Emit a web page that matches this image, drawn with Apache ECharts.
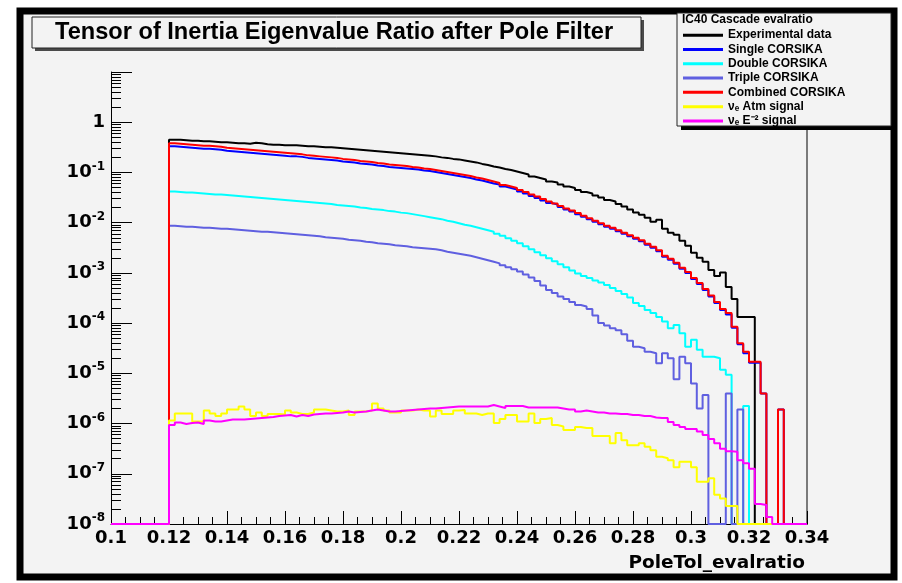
<!DOCTYPE html>
<html><head><meta charset="utf-8">
<script src="https://cdn.jsdelivr.net/npm/echarts@6/dist/echarts.min.js"></script>
<style>html,body{margin:0;padding:0;background:#fff}#chart{width:902px;height:583px}</style>
</head><body><div id="chart"></div>
<script>
// Histogram binning: 120 bins of width 0.002 from 0.1 to 0.34
const binLow = 0.1, binWidth = 0.002;
// Tick labels
const xTickLabels = ['0.1','0.12','0.14','0.16','0.18','0.2','0.22','0.24','0.26','0.28','0.3','0.32','0.34'];
const yTickExponents = [-8,-7,-6,-5,-4,-3,-2,-1,0];
// Bin contents as log10(value); null = empty bin
const log10Experimental = [
null,null,null,null,null,null,null,null,null,null,
-0.35,-0.35,-0.36,-0.37,-0.37,-0.38,-0.38,-0.39,-0.40,-0.40,
-0.41,-0.42,-0.42,-0.43,-0.41,-0.42,-0.44,-0.45,-0.45,-0.46,
-0.46,-0.46,-0.47,-0.48,-0.48,-0.49,-0.50,-0.50,-0.51,-0.52,
-0.53,-0.54,-0.55,-0.56,-0.57,-0.58,-0.59,-0.60,-0.61,-0.62,
-0.63,-0.64,-0.65,-0.66,-0.67,-0.68,-0.70,-0.71,-0.73,-0.74,
-0.76,-0.78,-0.80,-0.83,-0.85,-0.88,-0.90,-0.93,-0.95,-0.98,
-1.01,-1.04,-1.08,-1.11,-1.14,-1.18,-1.20,-1.24,-1.28,-1.31,
-1.35,-1.39,-1.42,-1.46,-1.50,-1.55,-1.58,-1.63,-1.68,-1.74,
-1.80,-1.84,-1.90,-1.98,-1.94,-2.12,-2.20,-2.24,-2.36,-2.46,
-2.60,-2.70,-2.78,-2.94,-3.06,-2.99,-3.28,-3.52,-3.88,-3.88,
-3.88,null,null,null,null,null,null,null,null,null];
const log10Single = [
null,null,null,null,null,null,null,null,null,null,
-0.48,-0.49,-0.50,-0.51,-0.52,-0.53,-0.53,-0.54,-0.55,-0.57,
-0.58,-0.59,-0.60,-0.61,-0.62,-0.63,-0.64,-0.65,-0.66,-0.67,
-0.68,-0.68,-0.69,-0.71,-0.72,-0.73,-0.74,-0.75,-0.76,-0.78,
-0.79,-0.80,-0.82,-0.83,-0.84,-0.86,-0.87,-0.89,-0.90,-0.91,
-0.92,-0.93,-0.94,-0.96,-0.97,-0.99,-1.01,-1.03,-1.05,-1.07,
-1.09,-1.11,-1.14,-1.16,-1.19,-1.22,-1.24,-1.28,-1.31,-1.34,
-1.38,-1.42,-1.47,-1.51,-1.56,-1.61,-1.64,-1.69,-1.74,-1.78,
-1.83,-1.88,-1.93,-1.98,-2.03,-2.08,-2.12,-2.17,-2.22,-2.27,
-2.32,-2.37,-2.44,-2.50,-2.57,-2.68,-2.74,-2.82,-2.92,-3.00,
-3.12,-3.22,-3.34,-3.47,-3.60,-3.74,-3.83,-4.09,-4.42,-4.60,
-4.79,-4.79,-5.40,null,null,-5.72,null,null,null,null];
const log10Double = [
null,null,null,null,null,null,null,null,null,null,
-1.38,-1.39,-1.40,-1.40,-1.41,-1.42,-1.43,-1.44,-1.44,-1.45,
-1.46,-1.47,-1.48,-1.49,-1.50,-1.51,-1.52,-1.53,-1.54,-1.55,
-1.56,-1.57,-1.58,-1.59,-1.60,-1.61,-1.62,-1.63,-1.65,-1.66,
-1.67,-1.68,-1.70,-1.71,-1.73,-1.74,-1.75,-1.77,-1.78,-1.80,
-1.81,-1.83,-1.85,-1.87,-1.89,-1.91,-1.93,-1.96,-1.98,-2.01,
-2.04,-2.06,-2.09,-2.12,-2.15,-2.18,-2.22,-2.26,-2.31,-2.36,
-2.41,-2.47,-2.53,-2.59,-2.65,-2.71,-2.77,-2.83,-2.89,-2.95,
-3.01,-3.06,-3.10,-3.15,-3.19,-3.24,-3.30,-3.36,-3.42,-3.49,
-3.60,-3.66,-3.74,-3.80,-3.88,-3.97,-4.10,-4.04,-4.20,-4.47,
-4.33,-4.53,-4.67,-4.67,-4.70,-4.93,-5.03,null,null,-5.65,
null,null,null,null,null,null,null,null,null,null];
const log10Triple = [
null,null,null,null,null,null,null,null,null,null,
-2.06,-2.07,-2.08,-2.08,-2.09,-2.10,-2.10,-2.11,-2.12,-2.12,
-2.13,-2.14,-2.15,-2.16,-2.17,-2.18,-2.18,-2.19,-2.20,-2.21,
-2.22,-2.23,-2.24,-2.25,-2.26,-2.27,-2.29,-2.30,-2.31,-2.32,
-2.34,-2.35,-2.36,-2.38,-2.39,-2.41,-2.42,-2.43,-2.45,-2.46,
-2.47,-2.49,-2.50,-2.51,-2.52,-2.53,-2.55,-2.58,-2.60,-2.62,
-2.64,-2.66,-2.69,-2.72,-2.75,-2.78,-2.81,-2.85,-2.89,-2.93,
-2.97,-3.03,-3.09,-3.16,-3.25,-3.34,-3.40,-3.47,-3.52,-3.58,
-3.64,-3.67,-3.72,-3.85,-4.00,-4.05,-4.10,-4.14,-4.22,-4.35,
-4.47,-4.50,-4.57,-4.60,-4.80,-4.60,-4.70,-5.12,-4.67,-4.80,
-5.20,-5.70,-5.43,null,null,null,-5.40,null,-5.72,null,
null,null,null,null,null,null,null,null,null,null];
const log10Combined = [
null,null,null,null,null,null,null,null,null,null,
-0.42,-0.43,-0.44,-0.45,-0.46,-0.47,-0.47,-0.48,-0.49,-0.51,
-0.52,-0.53,-0.54,-0.55,-0.56,-0.57,-0.58,-0.59,-0.60,-0.61,
-0.62,-0.63,-0.64,-0.66,-0.67,-0.68,-0.69,-0.70,-0.71,-0.73,
-0.74,-0.75,-0.77,-0.78,-0.79,-0.81,-0.82,-0.84,-0.85,-0.86,
-0.87,-0.89,-0.90,-0.92,-0.93,-0.95,-0.97,-0.99,-1.01,-1.03,
-1.05,-1.07,-1.10,-1.12,-1.15,-1.18,-1.21,-1.25,-1.28,-1.31,
-1.35,-1.39,-1.44,-1.48,-1.53,-1.58,-1.62,-1.67,-1.72,-1.76,
-1.81,-1.86,-1.91,-1.96,-2.01,-2.06,-2.10,-2.15,-2.20,-2.25,
-2.30,-2.35,-2.42,-2.48,-2.55,-2.66,-2.72,-2.80,-2.90,-2.98,
-3.10,-3.20,-3.32,-3.45,-3.58,-3.72,-3.80,-4.07,-4.40,-4.57,
-4.77,-4.77,-5.40,null,null,-5.72,null,null,null,null];
const log10NueAtm = [
null,null,null,null,null,null,null,null,null,null,
-5.94,-5.80,-5.80,-5.80,-5.96,-5.96,-5.74,-5.80,-5.85,-5.80,
-5.72,-5.72,-5.66,-5.72,-5.85,-5.78,-5.85,-5.81,-5.81,-5.82,
-5.74,-5.78,-5.81,-5.81,-5.78,-5.72,-5.72,-5.74,-5.76,-5.76,
-5.74,-5.83,-5.76,-5.76,-5.74,-5.60,-5.70,-5.74,-5.78,-5.78,
-5.74,-5.74,-5.72,-5.74,-5.74,-5.86,-5.74,-5.81,-5.81,-5.74,
-5.73,-5.80,-5.80,-5.83,-5.80,-5.80,-5.99,-5.91,-5.83,-5.83,
-5.96,-5.96,-5.80,-5.99,-5.91,-5.89,-6.03,-6.06,-6.13,-6.13,
-6.07,-6.09,-6.09,-6.25,-6.25,-6.25,-6.39,-6.19,-6.33,-6.43,
-6.43,-6.39,-6.46,-6.53,-6.66,-6.69,-6.73,-6.87,-6.76,-6.76,
-6.87,-7.16,-7.16,-7.09,-7.42,-7.49,-7.64,-7.64,null,null,
null,null,null,null,null,null,null,null,null,null];
const log10NueE2 = [
null,null,null,null,null,null,null,null,null,null,
-6.03,-5.98,-6.01,-5.99,-5.98,-6.01,-5.94,-5.96,-5.96,-5.94,
-5.92,-5.92,-5.92,-5.91,-5.90,-5.89,-5.88,-5.87,-5.85,-5.84,
-5.83,-5.86,-5.83,-5.85,-5.82,-5.81,-5.80,-5.80,-5.79,-5.78,
-5.76,-5.78,-5.77,-5.76,-5.74,-5.72,-5.74,-5.76,-5.76,-5.75,
-5.74,-5.73,-5.72,-5.71,-5.70,-5.70,-5.69,-5.68,-5.67,-5.66,
-5.66,-5.66,-5.66,-5.66,-5.66,-5.63,-5.66,-5.69,-5.65,-5.65,
-5.65,-5.68,-5.68,-5.68,-5.68,-5.68,-5.68,-5.70,-5.72,-5.72,
-5.76,-5.74,-5.76,-5.78,-5.78,-5.80,-5.80,-5.81,-5.81,-5.83,
-5.83,-5.85,-5.85,-5.88,-5.89,-5.89,-5.97,-6.03,-6.07,-6.11,
-6.11,-6.16,-6.23,-6.31,-6.39,-6.50,-6.55,-6.56,-6.73,-6.79,
-6.90,-7.60,-7.62,-7.86,null,null,null,null,null,null];

const seriesNames = ['Experimental data','Single CORSIKA','Double CORSIKA','Triple CORSIKA','Combined CORSIKA','\u03bd\u2091 Atm signal','\u03bd\u2091 E\u207b\u00b2 signal'];
const seriesLogs = [log10Experimental, log10Single, log10Double, log10Triple, log10Combined, log10NueAtm, log10NueE2];
const seriesColors = ['#000000','#0000ff','#00ffff','#5f5fe0','#ff0000','#ffff00','#ff00ff'];

const yFloor = 1e-8, yCeil = 10;
function histPoints(logs){
  const pts = logs.map((l,i)=>[+(binLow+i*binWidth).toFixed(4), l==null ? yFloor : Math.pow(10,l)]);
  pts.push([+(binLow+logs.length*binWidth).toFixed(4), pts[pts.length-1][1]]);
  return pts;
}
const yMinorTicks = [];
for (let e=-8;e<=0;e++) for (let m=2;m<=9;m++) yMinorTicks.push(e+Math.log10(m));

const BG = '#f3f3f3';
const axisFont = 'DejaVu Sans';
const chart = echarts.init(document.getElementById('chart'), null, {renderer:'canvas'});
chart.setOption({
  animation:false,
  backgroundColor:'#ffffff',
  title:{text:'Tensor of Inertia Eigenvalue Ratio after Pole Filter', left:55, top:20, padding:0, z:8,
    textStyle:{fontFamily:'Liberation Sans', fontWeight:'bold', fontSize:23.6, color:'#000', lineHeight:25}},
  grid:{left:111, right:95, top:72, bottom:59, outerBoundsMode:'none', containLabel:false},
  legend:{orient:'vertical', left:683, top:28, itemWidth:40, itemHeight:3, itemGap:0, selectedMode:false, z:20, padding:0,
    icon:'rect',
    textStyle:{fontFamily:'Liberation Sans', fontWeight:'bold', fontSize:12, color:'#000', lineHeight:14.3},
    data:seriesNames},
  xAxis:[{type:'value', min:0.1, max:0.34, interval:0.02,
    axisLine:{show:true, onZero:false, lineStyle:{color:'#000', width:1}},
    axisTick:{show:true, inside:true, length:13, lineStyle:{color:'#000', width:1}},
    minorTick:{show:true, splitNumber:4, length:7, lineStyle:{color:'#000', width:1}},
    splitLine:{show:false}, minorSplitLine:{show:false},
    axisLabel:{show:true, margin:5, showMinLabel:true, showMaxLabel:true,
      formatter:(v)=>{const i=Math.round((v-0.1)/0.02); return xTickLabels[i]||'';},
      fontFamily:axisFont, fontWeight:'bold', fontSize:18, color:'#000'},
    name:'PoleTol_evalratio', nameLocation:'end', nameGap:-2,
    nameTextStyle:{fontFamily:axisFont, fontWeight:'bold', fontSize:18.5, color:'#000', align:'right', verticalAlign:'top', padding:[30,0,0,0]}
  }],
  yAxis:[
    {type:'log', logBase:10, min:yFloor, max:yCeil, splitNumber:9, position:'left',
     axisLine:{show:true, lineStyle:{color:'#000', width:1}},
     axisTick:{show:true, inside:true, length:21, lineStyle:{color:'#000', width:1}},
     splitLine:{show:false},
     axisLabel:{show:true, margin:6, showMinLabel:true, showMaxLabel:true,
       formatter:(v)=>{const e=Math.round(Math.log10(v)); if(yTickExponents.indexOf(e)<0) return ''; return e===0?'{b|1}':'{b|10}{s|'+e+'}';},
       rich:{b:{fontFamily:axisFont, fontWeight:'bold', fontSize:18, color:'#000', lineHeight:24},
             s:{fontFamily:axisFont, fontWeight:'bold', fontSize:12, color:'#000', verticalAlign:'top', lineHeight:14}}}},
    {type:'value', min:-8, max:1, position:'left', offset:0,
     axisLine:{show:false}, axisLabel:{show:false}, splitLine:{show:false},
     axisTick:{show:true, inside:true, length:10, customValues:yMinorTicks, lineStyle:{color:'#000', width:1}}},
    {type:'value', min:0, max:1, position:'right',
     axisLine:{show:true, lineStyle:{color:'#7a7a7a', width:2}}, axisTick:{show:false}, axisLabel:{show:false}, splitLine:{show:false}}
  ],
  graphic:[
    {type:'rect', z:-10, silent:true, shape:{x:20, y:11, width:874, height:566}, style:{fill:BG, stroke:'#000', lineWidth:7}},
    {type:'rect', z:5, silent:true, shape:{x:35, y:20, width:609, height:31}, style:{fill:'#4a4a4a'}},
    {type:'rect', z:5, silent:true, shape:{x:32, y:17, width:609, height:31}, style:{fill:BG, stroke:'#222', lineWidth:1}},
    {type:'rect', z:5, silent:true, shape:{x:681, y:17, width:214, height:113}, style:{fill:'#000'}},
    {type:'rect', z:5, silent:true, shape:{x:677, y:13, width:214, height:113}, style:{fill:BG, stroke:'#222', lineWidth:1}},
    {type:'text', z:21, silent:true, style:{text:'IC40 Cascade evalratio', x:682, y:20, fontFamily:'Liberation Sans', fontWeight:'bold', fontSize:12, fill:'#000', verticalAlign:'middle'}}
  ],
  series: seriesNames.map((n,i)=>({
    name:n, type:'line', step:'end', data:histPoints(seriesLogs[i]), symbol:'none', clip:false,
    xAxisIndex:0, yAxisIndex:0, z:2+i*0.01,
    lineStyle:{color:seriesColors[i], width:2}, itemStyle:{color:seriesColors[i]},
    emphasis:{disabled:true}
  }))
});
</script></body></html>
